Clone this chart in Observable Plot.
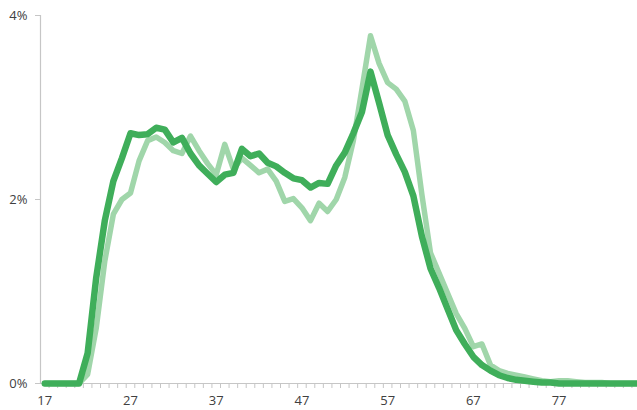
<!DOCTYPE html>
<html>
<head>
<meta charset="utf-8">
<script src="https://cdn.jsdelivr.net/npm/d3@7"></script>
<script src="https://cdn.jsdelivr.net/npm/@observablehq/plot@0.6"></script>
<style>
  html, body { margin: 0; padding: 0; background: #fff; overflow: hidden; }
  #chart svg { display: block; }
</style>
</head>
<body>
<div id="chart"></div>
<script>
const ages = [17,18,19,20,21,22,23,24,25,26,27,28,29,30,31,32,33,34,35,36,37,38,39,40,41,42,43,44,45,46,47,48,49,50,51,52,53,54,55,56,57,58,59,60,61,62,63,64,65,66,67,68,69,70,71,72,73,74,75,76,77,78,79,80,81,82,83,84,85,86];
const darkSeries = [0,0,0,0,0,0.33,1.15,1.77,2.2,2.45,2.72,2.7,2.71,2.78,2.76,2.62,2.67,2.5,2.37,2.28,2.19,2.27,2.29,2.55,2.47,2.5,2.4,2.36,2.29,2.23,2.21,2.13,2.18,2.17,2.37,2.51,2.72,2.95,3.39,3.05,2.7,2.49,2.3,2.04,1.6,1.25,1.04,0.81,0.58,0.43,0.29,0.2,0.14,0.09,0.06,0.04,0.03,0.02,0.01,0.01,0,0,0,0,0,0,0,0,0,0];
const lightSeries = [0,0,0,0,0,0.1,0.6,1.33,1.84,2.0,2.07,2.42,2.64,2.68,2.62,2.53,2.5,2.69,2.53,2.39,2.27,2.6,2.33,2.45,2.37,2.29,2.33,2.2,1.98,2.01,1.91,1.77,1.96,1.87,2.0,2.24,2.64,3.2,3.78,3.48,3.27,3.2,3.07,2.75,2.05,1.42,1.2,0.98,0.76,0.6,0.4,0.43,0.2,0.14,0.11,0.09,0.07,0.05,0.03,0.02,0.03,0.03,0.02,0.01,0.01,0.01,0,0,0,0];
const xLabels = [17,27,37,47,57,67,77];
const yTicks = [0,2,4];

const dark = ages.map((a,i)=>({age:a, v:darkSeries[i]}));
const light = ages.map((a,i)=>({age:a, v:lightSeries[i]}));
const boundaries = ages.map(a => a + 0.5);

const axisColor = "#c6c6c6";
const textColor = "#404040";

const chart = Plot.plot({
  width: 637,
  height: 410,
  marginLeft: 40,
  marginRight: 0,
  marginTop: 15,
  marginBottom: 27,
  style: {fontFamily: "'Open Sans', sans-serif", fontSize: "13px", color: textColor, background: "#fff"},
  x: {type: "linear", domain: [16.5, 86.5], range: [40, 640], axis: null},
  y: {domain: [0, 4], axis: null},
  marks: [
    Plot.axisX({ticks: boundaries, tickSize: 5, tickFormat: () => "", stroke: axisColor, strokeOpacity: 1, label: null}),
    Plot.axisX({ticks: xLabels, tickSize: 0, tickPadding: 12, tickFormat: d => String(d), fill: textColor, fontSize: 13, label: null}),
    Plot.axisY({ticks: yTicks, tickSize: 5, tickPadding: 8, tickFormat: d => d + "%", stroke: axisColor, strokeOpacity: 1, fill: textColor, fontSize: 13, label: null}),
    Plot.ruleX([16.5], {stroke: axisColor, strokeWidth: 1.2}),
    Plot.ruleY([0], {stroke: axisColor, strokeWidth: 1.2}),
    Plot.line(light, {x: "age", y: "v", stroke: "#a0d6aa", strokeWidth: 5.5, strokeLinejoin: "round", strokeLinecap: "round"}),
    Plot.line(dark, {x: "age", y: "v", stroke: "#3fae5a", strokeWidth: 6.5, strokeLinejoin: "round", strokeLinecap: "round"})
  ]
});
document.getElementById("chart").appendChild(chart);
</script>
</body>
</html>
